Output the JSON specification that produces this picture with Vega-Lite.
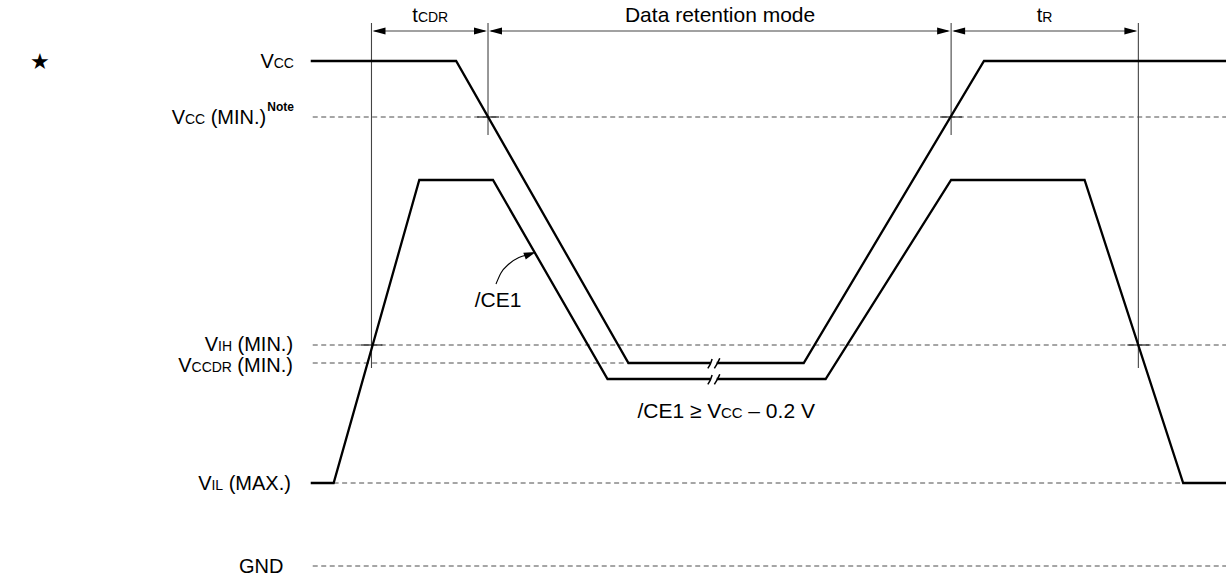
{
  "$schema": "https://vega.github.io/schema/vega-lite/v6.json",
  "width": 1231,
  "height": 579,
  "autosize": {"type": "fit", "contains": "padding"},
  "padding": 0,
  "background": "white",
  "config": {"view": {"stroke": null}},
  "datasets": {
    "segs": [
      {"id": "vcc", "kind": "sig", "o": 1, "x": 312, "y": 61},
      {"id": "vcc", "kind": "sig", "o": 2, "x": 458, "y": 61},
      {"id": "vcc", "kind": "sig", "o": 3, "x": 631, "y": 363},
      {"id": "vcc", "kind": "sig", "o": 4, "x": 807, "y": 363},
      {"id": "vcc", "kind": "sig", "o": 5, "x": 988, "y": 61},
      {"id": "vcc", "kind": "sig", "o": 6, "x": 1231, "y": 61},
      {"id": "ce1", "kind": "sig", "o": 1, "x": 312, "y": 483},
      {"id": "ce1", "kind": "sig", "o": 2, "x": 335, "y": 483},
      {"id": "ce1", "kind": "sig", "o": 3, "x": 421, "y": 180},
      {"id": "ce1", "kind": "sig", "o": 4, "x": 495, "y": 180},
      {"id": "ce1", "kind": "sig", "o": 5, "x": 610, "y": 379},
      {"id": "ce1", "kind": "sig", "o": 6, "x": 829, "y": 379},
      {"id": "ce1", "kind": "sig", "o": 7, "x": 955, "y": 180},
      {"id": "ce1", "kind": "sig", "o": 8, "x": 1089, "y": 180},
      {"id": "ce1", "kind": "sig", "o": 9, "x": 1188, "y": 483},
      {"id": "ce1", "kind": "sig", "o": 10, "x": 1231, "y": 483},
      {"id": "dmin", "kind": "dash", "o": 1, "x": 314, "y": 117},
      {"id": "dmin", "kind": "dash", "o": 2, "x": 1231, "y": 117},
      {"id": "dih", "kind": "dash", "o": 1, "x": 314, "y": 345},
      {"id": "dih", "kind": "dash", "o": 2, "x": 1231, "y": 345},
      {"id": "ddr", "kind": "dash", "o": 1, "x": 314, "y": 363},
      {"id": "ddr", "kind": "dash", "o": 2, "x": 632, "y": 363},
      {"id": "dil", "kind": "dash", "o": 1, "x": 335, "y": 483},
      {"id": "dil", "kind": "dash", "o": 2, "x": 1188, "y": 483},
      {"id": "dgnd", "kind": "dash", "o": 1, "x": 314, "y": 566},
      {"id": "dgnd", "kind": "dash", "o": 2, "x": 1231, "y": 566},
      {"id": "v1", "kind": "thin", "o": 1, "x": 373, "y": 23},
      {"id": "v1", "kind": "thin", "o": 2, "x": 373, "y": 368},
      {"id": "v2", "kind": "thin", "o": 1, "x": 490, "y": 23},
      {"id": "v2", "kind": "thin", "o": 2, "x": 490, "y": 135},
      {"id": "v3", "kind": "thin", "o": 1, "x": 955, "y": 23},
      {"id": "v3", "kind": "thin", "o": 2, "x": 955, "y": 135},
      {"id": "v4", "kind": "thin", "o": 1, "x": 1143, "y": 23},
      {"id": "v4", "kind": "thin", "o": 2, "x": 1143, "y": 368},
      {"id": "a1", "kind": "thin", "o": 1, "x": 376, "y": 31},
      {"id": "a1", "kind": "thin", "o": 2, "x": 487, "y": 31},
      {"id": "a2", "kind": "thin", "o": 1, "x": 493, "y": 31},
      {"id": "a2", "kind": "thin", "o": 2, "x": 952, "y": 31},
      {"id": "a3", "kind": "thin", "o": 1, "x": 958, "y": 31},
      {"id": "a3", "kind": "thin", "o": 2, "x": 1140, "y": 31},
      {"id": "t1", "kind": "tick", "o": 1, "x": 479, "y": 117},
      {"id": "t1", "kind": "tick", "o": 2, "x": 501, "y": 117},
      {"id": "t2", "kind": "tick", "o": 1, "x": 362, "y": 345},
      {"id": "t2", "kind": "tick", "o": 2, "x": 384, "y": 345},
      {"id": "t3", "kind": "tick", "o": 1, "x": 944, "y": 117},
      {"id": "t3", "kind": "tick", "o": 2, "x": 966, "y": 117},
      {"id": "t4", "kind": "tick", "o": 1, "x": 1132, "y": 345},
      {"id": "t4", "kind": "tick", "o": 2, "x": 1154, "y": 345},
      {"id": "b1", "kind": "brk", "o": 1, "x": 710.7, "y": 368.3},
      {"id": "b1", "kind": "brk", "o": 2, "x": 713.5, "y": 364},
      {"id": "b1", "kind": "brk", "o": 3, "x": 715, "y": 359},
      {"id": "b2", "kind": "brk", "o": 1, "x": 717.3, "y": 368.3},
      {"id": "b2", "kind": "brk", "o": 2, "x": 720.5, "y": 363},
      {"id": "b2", "kind": "brk", "o": 3, "x": 722.7, "y": 358.3},
      {"id": "b3", "kind": "brk", "o": 1, "x": 710.7, "y": 384.3},
      {"id": "b3", "kind": "brk", "o": 2, "x": 713.5, "y": 380},
      {"id": "b3", "kind": "brk", "o": 3, "x": 715, "y": 375},
      {"id": "b4", "kind": "brk", "o": 1, "x": 717.3, "y": 384.3},
      {"id": "b4", "kind": "brk", "o": 2, "x": 720.5, "y": 379},
      {"id": "b4", "kind": "brk", "o": 3, "x": 722.7, "y": 374.3}
    ],
    "gaps": [
      {"x": 713.6, "x2": 719.6, "y": 360.5, "y2": 365.5},
      {"x": 713.6, "x2": 719.6, "y": 376.5, "y2": 381.5}
    ],
    "curve": [
      {"o": 1, "x": 498, "y": 284},
      {"o": 2, "x": 503, "y": 273},
      {"o": 3, "x": 511, "y": 264},
      {"o": 4, "x": 521, "y": 257.5},
      {"o": 5, "x": 529, "y": 255}
    ],
    "headsL": [
      {"x": 374, "y": 31},
      {"x": 491, "y": 31},
      {"x": 956, "y": 31}
    ],
    "headsR": [
      {"x": 489, "y": 31},
      {"x": 954, "y": 31},
      {"x": 1142, "y": 31}
    ],
    "headC": [
      {"x": 538, "y": 252}
    ],
    "big": [
      {"t": "V", "x": 261.5, "y": 61},
      {"t": "V", "x": 172.4, "y": 117},
      {"t": "(MIN.)", "x": 211.5, "y": 117},
      {"t": "V", "x": 205.6, "y": 344},
      {"t": "(MIN.)", "x": 238.5, "y": 344},
      {"t": "V", "x": 179, "y": 365},
      {"t": "(MIN.)", "x": 238.3, "y": 365},
      {"t": "V", "x": 199, "y": 483},
      {"t": "(MAX.)", "x": 229.6, "y": 483},
      {"t": "GND", "x": 240, "y": 566},
      {"t": "t", "x": 414, "y": 15},
      {"t": "t", "x": 1041, "y": 15}
    ],
    "small": [
      {"t": "CC", "x": 274.8, "y": 61},
      {"t": "CC", "x": 185.7, "y": 117},
      {"t": "IH", "x": 218.9, "y": 344},
      {"t": "CCDR", "x": 192.3, "y": 365},
      {"t": "IL", "x": 212.3, "y": 483},
      {"t": "CDR", "x": 419.6, "y": 15},
      {"t": "R", "x": 1046.6, "y": 15}
    ],
    "mid": [
      {"t": "Data retention mode", "x": 627.5, "y": 15},
      {"t": "/CE1", "x": 476.7, "y": 300},
      {"t": "/CE1 ≥ V", "x": 640, "y": 411},
      {"t": "– 0.2 V", "x": 751.4, "y": 411}
    ],
    "midsmall": [
      {"t": "CC", "x": 723.9, "y": 411}
    ],
    "note": [
      {"t": "Note", "x": 268.3, "y": 107}
    ],
    "star": [
      {"t": "★", "x": 40, "y": 62}
    ]
  },
  "encoding": {
    "x": {"field": "x", "type": "quantitative", "scale": {"domain": [0, 1231], "nice": false, "zero": false}, "axis": null},
    "y": {"field": "y", "type": "quantitative", "scale": {"domain": [0, 579], "reverse": true, "nice": false, "zero": false}, "axis": null}
  },
  "layer": [
    {
      "data": {"name": "segs"},
      "transform": [{"filter": "datum.kind === 'dash'"}],
      "mark": {"type": "line", "stroke": "#4d4d4d", "strokeWidth": 1, "strokeDash": [5, 3.5]},
      "encoding": {"detail": {"field": "id"}, "order": {"field": "o"}}
    },
    {
      "data": {"name": "segs"},
      "transform": [{"filter": "datum.kind === 'thin'"}],
      "mark": {"type": "line", "stroke": "#444444", "strokeWidth": 1.1},
      "encoding": {"detail": {"field": "id"}, "order": {"field": "o"}}
    },
    {
      "data": {"name": "segs"},
      "transform": [{"filter": "datum.kind === 'tick'"}],
      "mark": {"type": "line", "stroke": "#222222", "strokeWidth": 1.2},
      "encoding": {"detail": {"field": "id"}, "order": {"field": "o"}}
    },
    {
      "data": {"name": "segs"},
      "transform": [{"filter": "datum.kind === 'sig'"}],
      "mark": {"type": "line", "stroke": "black", "strokeWidth": 2.3, "strokeJoin": "miter"},
      "encoding": {"detail": {"field": "id"}, "order": {"field": "o"}}
    },
    {
      "data": {"name": "gaps"},
      "mark": {"type": "rect", "fill": "white", "stroke": null},
      "encoding": {"x2": {"field": "x2"}, "y2": {"field": "y2"}}
    },
    {
      "data": {"name": "segs"},
      "transform": [{"filter": "datum.kind === 'brk'"}],
      "mark": {"type": "line", "stroke": "black", "strokeWidth": 1.5, "interpolate": "basis"},
      "encoding": {"detail": {"field": "id"}, "order": {"field": "o"}}
    },
    {
      "data": {"name": "curve"},
      "mark": {"type": "line", "stroke": "black", "strokeWidth": 1.1, "interpolate": "monotone"},
      "encoding": {"order": {"field": "o"}}
    },
    {
      "data": {"name": "headsL"},
      "mark": {"type": "point", "shape": "M0,0L2,-0.55L2,0.55Z", "size": 169, "filled": true, "fill": "black", "opacity": 1, "strokeWidth": 0}
    },
    {
      "data": {"name": "headsR"},
      "mark": {"type": "point", "shape": "M0,0L-2,-0.55L-2,0.55Z", "size": 169, "filled": true, "fill": "black", "opacity": 1, "strokeWidth": 0}
    },
    {
      "data": {"name": "headC"},
      "mark": {"type": "point", "shape": "M0,0L-2,-0.6L-2,0.6Z", "size": 144, "angle": 340, "filled": true, "fill": "black", "opacity": 1, "strokeWidth": 0}
    },
    {
      "data": {"name": "big"},
      "mark": {"type": "text", "font": "Liberation Sans", "fontSize": 20, "align": "left", "baseline": "alphabetic", "dy": 7, "fill": "black"},
      "encoding": {"text": {"field": "t"}}
    },
    {
      "data": {"name": "small"},
      "mark": {"type": "text", "font": "Liberation Sans", "fontSize": 14, "align": "left", "baseline": "alphabetic", "dy": 7, "fill": "black"},
      "encoding": {"text": {"field": "t"}}
    },
    {
      "data": {"name": "mid"},
      "mark": {"type": "text", "font": "Liberation Sans", "fontSize": 21, "align": "left", "baseline": "alphabetic", "dy": 7, "fill": "black"},
      "encoding": {"text": {"field": "t"}}
    },
    {
      "data": {"name": "midsmall"},
      "mark": {"type": "text", "font": "Liberation Sans", "fontSize": 15, "align": "left", "baseline": "alphabetic", "dy": 7, "fill": "black"},
      "encoding": {"text": {"field": "t"}}
    },
    {
      "data": {"name": "note"},
      "mark": {"type": "text", "font": "Liberation Sans", "fontSize": 12, "fontWeight": "bold", "align": "left", "baseline": "alphabetic", "dy": 4, "fill": "black"},
      "encoding": {"text": {"field": "t"}}
    },
    {
      "data": {"name": "star"},
      "mark": {"type": "text", "font": "DejaVu Sans", "fontSize": 22, "align": "center", "baseline": "middle", "fill": "black"},
      "encoding": {"text": {"field": "t"}}
    }
  ]
}
